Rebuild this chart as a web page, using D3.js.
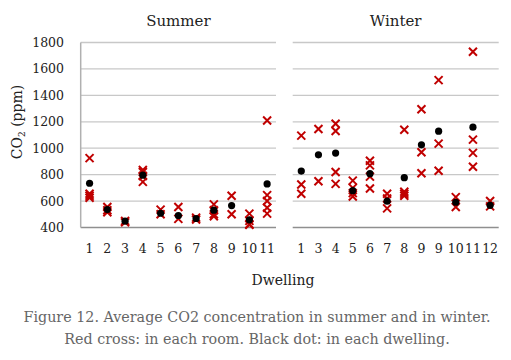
<!DOCTYPE html>
<html lang="en">
<head>
    <meta charset="UTF-8" />
    <title>Average CO2 concentration in summer and in winter</title>
    <script src="https://d3js.org/d3.v7.min.js"></script>
    <style>
        body {
            margin: 0;
            background: #fff;
        }
        svg {
            display: block;
            font-family: "DejaVu Serif", serif;
        }
        .grid line {
            stroke: #c8c8c8;
            stroke-width: 1.3px;
        }
        .cross {
            stroke: #c00000;
            stroke-width: 2px;
            fill: none;
        }
    </style>
</head>
<body>
    <svg id="chart"></svg>

    <script>
        // Summer: dwelling labels, room values (red crosses), dwelling average (black dot)
        const summerLabels = ["1", "2", "3", "4", "5", "6", "7", "8", "9", "10", "11"];
        const summerRooms = [
            [925, 655, 640, 625],
            [555, 530, 515],
            [450, 440],
            [835, 820, 790, 745],
            [535, 500],
            [555, 465],
            [475, 460],
            [575, 530, 500, 485],
            [640, 500],
            [505, 450, 425, 420],
            [1210, 645, 600, 550, 505]
        ];
        const summerDwelling = [735, 536, 448, 796, 508, 491, 468, 531, 566, 458, 730];

        // Winter
        const winterLabels = ["1", "3", "4", "5", "6", "7", "8", "9", "9", "10", "11", "12"];
        const winterRooms = [
            [1095, 725, 655],
            [1145, 750],
            [1185, 1130, 820, 730],
            [755, 700, 660, 635],
            [905, 870, 785, 695],
            [655, 620, 545],
            [1140, 670, 655, 640],
            [1295, 970, 810],
            [1515, 1035, 830],
            [630, 555],
            [1730, 1065, 965, 860],
            [600, 560]
        ];
        const winterDwelling = [827, 950, 963, 679, 807, 599, 777, 1026, 1129, 591, 1159, 568];

        const yTicks = [400, 600, 800, 1000, 1200, 1400, 1600, 1800];

        const width = 511, height = 360;
        const svg = d3.select("#chart")
            .attr("width", width)
            .attr("height", height);

        const y = d3.scaleLinear().domain([400, 1800]).range([227.5, 42.5]);

        // y axis labels (left panel only)
        svg.append("g")
            .selectAll("text")
            .data(yTicks)
            .enter().append("text")
            .attr("x", 64)
            .attr("y", d => y(d) + 4.5)
            .attr("text-anchor", "end")
            .attr("font-size", 12.5)
            .attr("fill", "#222")
            .text(d => d);

        // y axis title with subscript
        const yTitle = svg.append("text")
            .attr("transform", "translate(22,122) rotate(-90)")
            .attr("text-anchor", "middle")
            .attr("font-size", 14)
            .attr("fill", "#222");
        yTitle.append("tspan").text("CO");
        yTitle.append("tspan").attr("font-size", 9).attr("dy", 3).text("2");
        yTitle.append("tspan").attr("dy", -3).text(" (ppm)");

        function panel(title, labels, rooms, dwelling, x0, x1, leftAxis) {
            const x = d3.scaleBand()
                .domain(d3.range(labels.length))
                .range([x0, x1]);
            const cx = i => x(i) + x.bandwidth() / 2;
            const g = svg.append("g");

            // gridlines
            g.append("g").attr("class", "grid")
                .selectAll("line")
                .data(yTicks.slice(1))
                .enter().append("line")
                .attr("x1", x0).attr("x2", x1)
                .attr("y1", d => y(d)).attr("y2", d => y(d));

            // bottom axis line
            g.append("line")
                .attr("x1", x0).attr("x2", x1)
                .attr("y1", y(400)).attr("y2", y(400))
                .attr("stroke", "#8f8f8f").attr("stroke-width", 1.5);

            if (leftAxis) {
                g.append("line")
                    .attr("x1", x0).attr("x2", x0)
                    .attr("y1", y(1800)).attr("y2", y(400))
                    .attr("stroke", "#b0b0b0").attr("stroke-width", 1.5);
            }

            // x tick labels
            g.append("g")
                .selectAll("text")
                .data(labels)
                .enter().append("text")
                .attr("x", (d, i) => cx(i))
                .attr("y", 253)
                .attr("text-anchor", "middle")
                .attr("font-size", 12.5)
                .attr("fill", "#222")
                .text(d => d);

            // panel title
            g.append("text")
                .attr("x", (x0 + x1) / 2)
                .attr("y", 26)
                .attr("text-anchor", "middle")
                .attr("font-size", 15)
                .attr("fill", "#222")
                .text(title);

            // red crosses: each room
            const pts = [];
            rooms.forEach((vals, i) => vals.forEach(v => pts.push({ i, v })));
            g.append("g")
                .selectAll("path")
                .data(pts)
                .enter().append("path")
                .attr("class", "cross")
                .attr("transform", d => `translate(${cx(d.i)},${y(d.v)})`)
                .attr("d", "M-4,-4L4,4M-4,4L4,-4");

            // black dots: each dwelling
            g.append("g")
                .selectAll("circle")
                .data(dwelling)
                .enter().append("circle")
                .attr("cx", (d, i) => cx(i))
                .attr("cy", d => y(d))
                .attr("r", 3.6)
                .attr("fill", "#000");
        }

        panel("Summer", summerLabels, summerRooms, summerDwelling, 80.7, 276, true);
        panel("Winter", winterLabels, winterRooms, winterDwelling, 292.7, 498.7, false);

        // x axis title
        svg.append("text")
            .attr("x", 283)
            .attr("y", 285)
            .attr("text-anchor", "middle")
            .attr("font-size", 14)
            .attr("fill", "#222")
            .text("Dwelling");

        // caption
        const caption = [
            "Figure 12. Average CO2 concentration in summer and in winter.",
            "Red cross: in each room. Black dot: in each dwelling."
        ];
        svg.append("g")
            .selectAll("text")
            .data(caption)
            .enter().append("text")
            .attr("x", 257)
            .attr("y", (d, i) => 322 + i * 22)
            .attr("text-anchor", "middle")
            .attr("font-size", 14.3)
            .attr("fill", "#666")
            .text(d => d);
    </script>
</body>
</html>
